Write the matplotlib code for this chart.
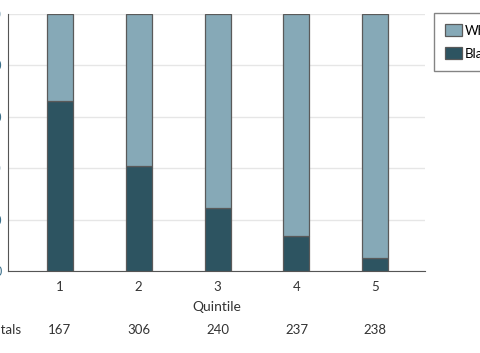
import numpy as np
import matplotlib
matplotlib.use("Agg")
import matplotlib.pyplot as plt
import matplotlib.transforms as mtransforms

quintiles = [1, 2, 3, 4, 5]
black_pct = [66, 41, 24.5, 13.5, 5]
white_pct = [100 - b for b in black_pct]
n_hospitals = [167, 306, 240, 237, 238]

light = "#86a9b7"
dark = "#2d5461"
edge = "#5a5a5a"

plt.rcParams['font.family'] = ['Lato', 'DejaVu Sans']

fig = plt.figure(figsize=(4.8, 3.53), dpi=100)
ax = fig.add_axes([8 / 480, 82 / 353, 417 / 480, 257 / 353])

ax.bar(quintiles, black_pct, width=0.33, color=dark, edgecolor=edge, linewidth=0.9, label="Black", zorder=3)
ax.bar(quintiles, white_pct, bottom=black_pct, width=0.33, color=light, edgecolor=edge, linewidth=0.9, label="White", zorder=3)

ax.set_xlim(0.342, 5.63)
ax.set_ylim(0, 100)
ax.set_yticks([0, 20, 40, 60, 80, 100])
ax.set_xticks(quintiles)
ax.yaxis.grid(True, color="#e6e6e6", linewidth=1, zorder=0)
ax.set_axisbelow(True)
for s in ["top", "right"]:
    ax.spines[s].set_visible(False)
ax.spines["left"].set_color("#555555")
ax.spines["bottom"].set_color("#555555")
ax.tick_params(axis="x", length=0, pad=7, labelsize=9.5, labelcolor="#333333")
ax.tick_params(axis="y", length=0, pad=4.5, labelsize=9, labelcolor="#3a6f8a")
ax.set_xlabel("Quintile", fontsize=10, color="#333333", labelpad=6)

trans = mtransforms.blended_transform_factory(ax.transData, ax.transAxes)
ax.text(0.51, -0.23, "No. of hospitals", transform=trans, ha="right", va="center", fontsize=9.5, color="#333333")
for q, n in zip(quintiles, n_hospitals):
    ax.text(q, -0.23, str(n), transform=trans, ha="center", va="center", fontsize=9.5, color="#333333")

h, l = ax.get_legend_handles_labels()
leg = fig.legend(h[::-1], l[::-1], loc="upper left", bbox_to_anchor=(434 / 480, 1 - 13 / 353),
                 fontsize=9.5, frameon=True, fancybox=False, edgecolor="#666666",
                 handlelength=1.3, handleheight=1.0, labelspacing=0.8, borderpad=0.85,
                 handletextpad=0.2, borderaxespad=0)
leg.get_frame().set_linewidth(1)

fig.savefig("out.png", dpi=100)
